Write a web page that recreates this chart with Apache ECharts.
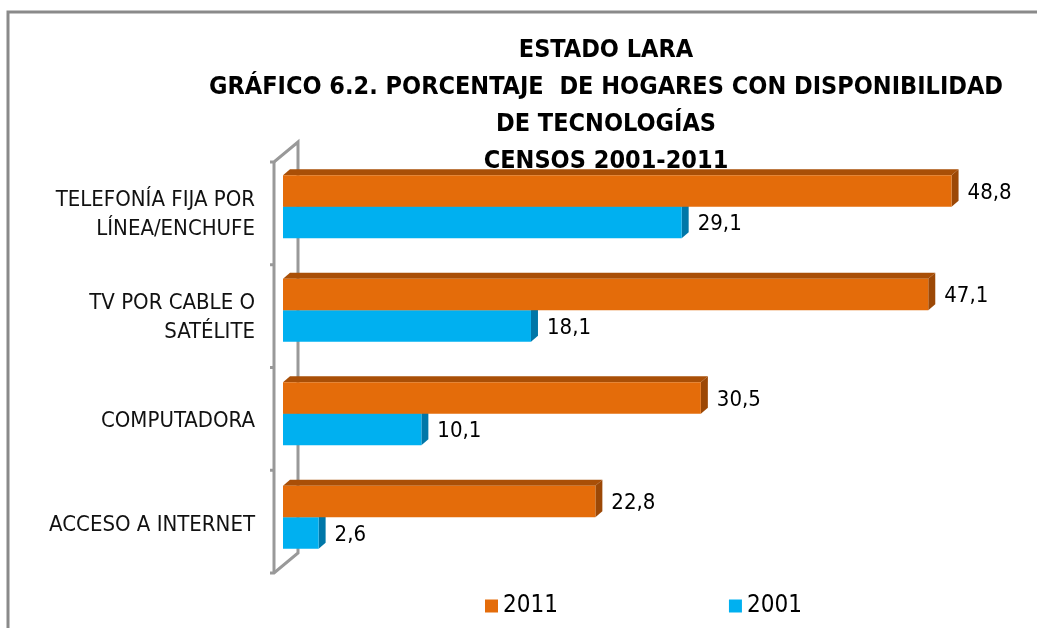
<!DOCTYPE html>
<html lang="es">
  <head>
    <meta charset="UTF-8" />
    <title>Estado Lara - Gráfico 6.2</title>
    <script src="https://cdn.jsdelivr.net/npm/echarts@6/dist/echarts.min.js"></script>
    <style>
      * {
        margin: 0;
        padding: 0;
      }
      html,
      body {
        background: #fff;
      }
    </style>
  </head>
  <body>
    <div id="charts" style="width: 1037px; height: 628px"></div>
    <script>
      var categories = [
        "TELEFONÍA FIJA POR\nLÍNEA/ENCHUFE",
        "TV POR CABLE O\nSATÉLITE",
        "COMPUTADORA",
        "ACCESO A INTERNET",
      ];
      var values2011 = [48.8, 47.1, 30.5, 22.8];
      var values2001 = [29.1, 18.1, 10.1, 2.6];
      var seriesNames = ["2011", "2001"];

      var FONT = "'Liberation Sans Narrow', 'DejaVu Sans Condensed', sans-serif";
      var DX = 7,
        DY = -6; // profundidad de las barras 3d

      function fmt(v) {
        return v.toFixed(1).replace(".", ",");
      }

      // barra con cara frontal, superior y lateral; slot 0 = arriba, 1 = abajo
      function barRenderer(slot, front, top, side) {
        return function (params, api) {
          var val = api.value(0);
          var idx = api.value(1);
          var p0 = api.coord([0, idx]);
          var p1 = api.coord([val, idx]);
          var band = api.size([0, 1])[1];
          var h = band * 0.305;
          var y = slot === 0 ? p0[1] - h : p0[1];
          var x0 = p0[0],
            x1 = p1[0];
          return {
            type: "group",
            children: [
              {
                type: "polygon",
                shape: {
                  points: [
                    [x0, y],
                    [x0 + DX, y + DY],
                    [x1 + DX, y + DY],
                    [x1, y],
                  ],
                },
                style: { fill: top },
              },
              {
                type: "polygon",
                shape: {
                  points: [
                    [x1, y],
                    [x1 + DX, y + DY],
                    [x1 + DX, y + h + DY],
                    [x1, y + h],
                  ],
                },
                style: { fill: side },
              },
              {
                type: "rect",
                shape: { x: x0, y: y, width: x1 - x0, height: h },
                style: { fill: front },
              },
              {
                type: "text",
                x: x1 + DX + 9,
                y: y + h / 2 + 2,
                style: {
                  text: fmt(val),
                  fill: "#000",
                  font: "22px " + FONT,
                  verticalAlign: "middle",
                  align: "left",
                },
              },
            ],
          };
        };
      }

      // pared lateral del eje de categorías (se dibuja una vez)
      function wallRenderer(params, api) {
        var cs = params.coordSys;
        var fx = cs.x - 9,
          bx = cs.x + 15;
        var ft = cs.y + 7,
          fb = cs.y + cs.height + 4;
        var n = categories.length;
        var step = (fb - ft) / n;
        var children = [
          { type: "polyline", shape: { points: [[fx - 4, ft], [fx, ft], [bx, ft - 20], [bx, fb - 20], [fx, fb], [fx - 4, fb]] } },
          { type: "line", shape: { x1: fx, y1: ft, x2: fx, y2: fb } },
        ];
        for (var i = 1; i < n; i++) {
          children.push({ type: "line", shape: { x1: fx - 4, y1: ft + step * i, x2: fx, y2: ft + step * i } });
        }
        children.forEach(function (c) {
          c.style = { stroke: "#999", lineWidth: 3, fill: null };
        });
        return { type: "group", children: children };
      }

      // etiquetas de categoría, alineadas con la cara frontal de la pared
      function labelRenderer(params, api) {
        var idx = api.value(1);
        var p = api.coord([0, idx]);
        return {
          type: "text",
          x: p[0] - 28,
          y: p[1] + 8,
          style: {
            text: categories[idx],
            fill: "#111",
            font: "22px " + FONT,
            lineHeight: 29,
            align: "right",
            verticalAlign: "middle",
          },
        };
      }

      var myEcharts = echarts.init(document.getElementById("charts"));
      var options = {
        animation: false,
        title: {
          text: "ESTADO LARA\nGRÁFICO 6.2. PORCENTAJE  DE HOGARES CON DISPONIBILIDAD\nDE TECNOLOGÍAS\nCENSOS 2001-2011",
          left: 601,
          top: 27,
          textAlign: "center",
          textStyle: {
            fontFamily: FONT,
            fontWeight: "bold",
            fontSize: 25,
            lineHeight: 37,
            color: "#000",
          },
        },
        legend: {
          data: seriesNames,
          left: 480,
          top: 589,
          icon: "rect",
          itemWidth: 13,
          itemHeight: 13,
          itemGap: 171,
          textStyle: { fontFamily: FONT, fontSize: 24, color: "#000" },
        },
        graphic: [
          {
            type: "rect",
            shape: { x: 8, y: 12, width: 1100, height: 700 },
            style: { stroke: "#8a8a8a", lineWidth: 3, fill: null },
            silent: true,
          },
        ],
        grid: { left: 283, right: 69, top: 155, bottom: 59 },
        xAxis: { type: "value", min: 0, max: 50, show: false },
        yAxis: {
          type: "category",
          data: categories,
          inverse: true,
          axisLine: { show: false },
          axisTick: { show: false },
          axisLabel: { show: false },
        },
        series: [
          {
            type: "custom",
            name: "wall",
            renderItem: wallRenderer,
            data: [[0, 0]],
            encode: { x: 0, y: 1 },
            silent: true,
          },
          {
            type: "custom",
            name: "labels",
            renderItem: labelRenderer,
            data: categories.map(function (c, i) {
              return [0, i];
            }),
            encode: { x: 0, y: 1 },
            silent: true,
          },
          {
            type: "custom",
            name: seriesNames[1],
            itemStyle: { color: "#00B0F0" },
            renderItem: barRenderer(1, "#00B0F0", "#0088BB", "#0077A8"),
            data: values2001.map(function (v, i) {
              return [v, i];
            }),
            encode: { x: 0, y: 1 },
          },
          {
            type: "custom",
            name: seriesNames[0],
            itemStyle: { color: "#E46C0A" },
            renderItem: barRenderer(0, "#E46C0A", "#A94F07", "#9C4806"),
            data: values2011.map(function (v, i) {
              return [v, i];
            }),
            encode: { x: 0, y: 1 },
          },
        ],
      };
      myEcharts.setOption(options);
    </script>
  </body>
</html>
